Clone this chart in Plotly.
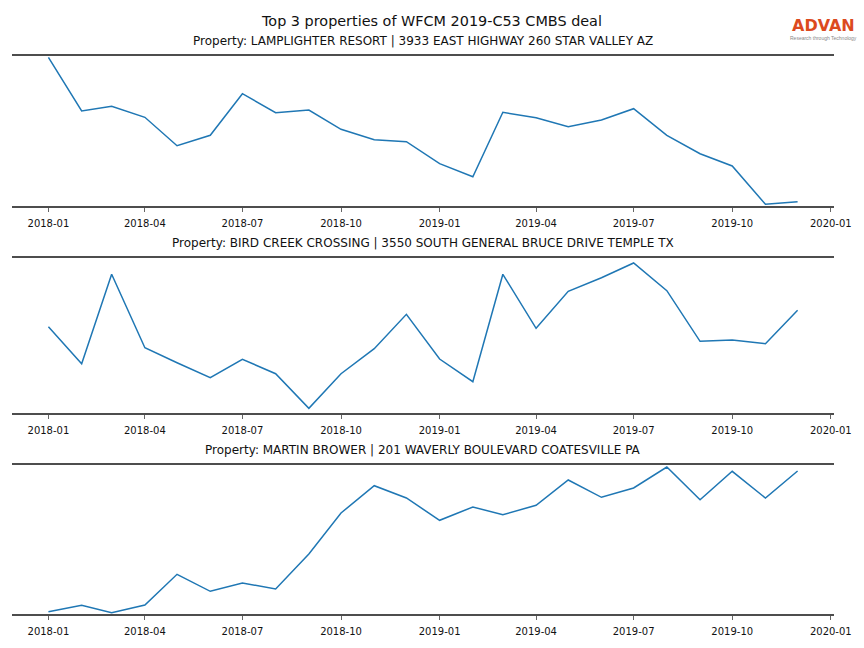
import plotly.graph_objects as go

months = [
    "2018-01-01", "2018-02-01", "2018-03-01", "2018-04-01", "2018-05-01", "2018-06-01",
    "2018-07-01", "2018-08-01", "2018-09-01", "2018-10-01", "2018-11-01", "2018-12-01",
    "2019-01-01", "2019-02-01", "2019-03-01", "2019-04-01", "2019-05-01", "2019-06-01",
    "2019-07-01", "2019-08-01", "2019-09-01", "2019-10-01", "2019-11-01", "2019-12-01",
]

titles = [
    "Property: LAMPLIGHTER RESORT | 3933 EAST HIGHWAY 260 STAR VALLEY AZ",
    "Property: BIRD CREEK CROSSING | 3550 SOUTH GENERAL BRUCE DRIVE TEMPLE TX",
    "Property: MARTIN BROWER | 201 WAVERLY BOULEVARD COATESVILLE PA",
]

lamplighter = [148.7, 95.0, 99.7, 88.7, 60.3, 70.7, 112.3, 93.3, 96.0, 76.7, 66.3, 64.3,
               42.3, 29.3, 93.7, 88.3, 79.3, 86.0, 97.3, 70.7, 52.3, 40.0, 1.7, 4.3]
bird_creek = [86.3, 49.3, 138.7, 65.3, 50.3, 35.3, 53.7, 39.3, 4.7, 39.3, 64.3, 98.7,
              54.0, 31.3, 138.7, 84.7, 121.7, 135.3, 150.0, 122.3, 71.7, 73.0, 69.3, 102.7]
martin_brower = [2.3, 8.7, 1.3, 9.0, 39.7, 22.7, 31.0, 25.0, 60.0, 101.0, 128.3, 116.0,
                 93.7, 107.0, 99.3, 108.7, 134.0, 116.7, 126.0, 147.0, 114.3, 142.7, 116.0, 143.0]

series = [lamplighter, bird_creek, martin_brower]
y_ranges = [[0, 150], [0, 155], [0, 149]]

tick_vals = ["2018-01-01", "2018-04-01", "2018-07-01", "2018-10-01", "2019-01-01",
             "2019-04-01", "2019-07-01", "2019-10-01", "2020-01-01"]
tick_text = ["2018-01", "2018-04", "2018-07", "2018-10", "2019-01",
             "2019-04", "2019-07", "2019-10", "2020-01"]

W, H = 864, 648
FIG_W = 881  # the page photo comes out ~2% narrower than the layout width
x_dom = [12 / W, 835 / W]
# (top px, bottom px) of each panel
panels = [(56, 206), (258, 413), (465, 614)]

fig = go.Figure()
FONT = "DejaVu Sans"
annotations = []
for i, (vals, rng, (top, bot), title) in enumerate(zip(series, y_ranges, panels, titles)):
    n = "" if i == 0 else str(i + 1)
    fig.add_trace(go.Scatter(
        x=months, y=vals, mode="lines",
        line=dict(color="#1f77b4", width=1.5),
        xaxis="x" + n, yaxis="y" + n, showlegend=False,
        hoverinfo="x+y",
    ))
    ydom = [1 - bot / H, 1 - top / H]
    fig.update_layout(**{
        "xaxis" + n: dict(
            domain=x_dom, anchor="y" + n, type="date",
            range=["2017-11-28", "2020-01-04"],
            tickvals=tick_vals, ticktext=tick_text,
            ticks="outside", ticklen=4, tickwidth=1, tickcolor="#666",
            ticklabelstandoff=3,
            showline=True, mirror=True, linecolor="#4d4d4d", linewidth=2.2,
            showgrid=False, zeroline=False,
            tickfont=dict(family=FONT, size=10, color="#111"),
        ),
        "yaxis" + n: dict(
            domain=ydom, anchor="x" + n, range=rng,
            showticklabels=False, ticks="", showgrid=False, zeroline=False,
            showline=False,
        ),
    })
    annotations.append(dict(
        text=title, x=(x_dom[0] + x_dom[1]) / 2, xref="paper", y=1 - (top - 15) / H, yref="paper",
        xanchor="center", yanchor="middle", showarrow=False,
        font=dict(family=FONT, size=12, color="#111"),
    ))

annotations.append(dict(
    text="Top 3 properties of WFCM 2019-C53 CMBS deal", x=0.5, xref="paper",
    y=1 - 21 / H, yref="paper", xanchor="center", yanchor="middle", showarrow=False,
    font=dict(family=FONT, size=14.4, color="#111"),
))
annotations.append(dict(
    text="ADVAN", x=824.5 / W, xref="paper", y=1 - 25.5 / H, yref="paper",
    xanchor="center", yanchor="middle", showarrow=False,
    font=dict(family="DejaVu Sans", size=16, color="#dc4a1e", weight="bold"),
))
annotations.append(dict(
    text="Research through Technology", x=824.5 / W, xref="paper", y=1 - 38 / H, yref="paper",
    xanchor="center", yanchor="middle", showarrow=False,
    font=dict(family="Liberation Sans", size=5, color="#888"),
))

fig.update_layout(
    width=FIG_W, height=H, autosize=False, margin=dict(l=0, r=0, t=0, b=0),
    paper_bgcolor="white", plot_bgcolor="white",
    annotations=annotations,
)

post = (
    "document.documentElement.style.overflow='hidden';"
    "document.body.style.margin='0';"
    "document.body.style.overflow='hidden';"
)

fig.write_html(
    "out.html",
    config={"displayModeBar": False},
    post_script=post,
)
